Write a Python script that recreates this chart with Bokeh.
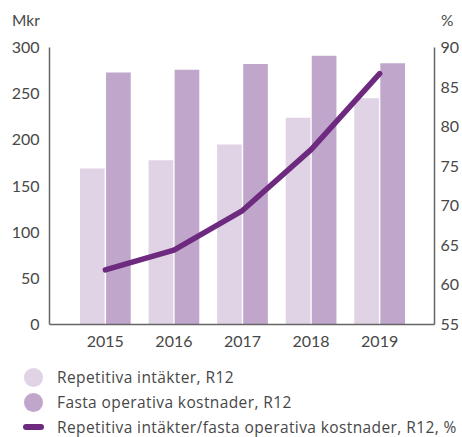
from bokeh.plotting import figure
from bokeh.models import ColumnDataSource, Range1d, LinearAxis, FixedTicker, Div
from bokeh.layouts import column
from bokeh.transform import dodge
from bokeh.embed import file_html
from bokeh.resources import INLINE

# ---- data ----
years = [2015, 2016, 2017, 2018, 2019]
repetitiva_intakter = [169, 178, 195, 224, 245]          # Mkr
fasta_kostnader = [273, 276, 282, 291, 283]              # Mkr
kvot_procent = [61.9, 64.4, 69.4, 77.1, 86.7]            # %
left_ticks = [0, 50, 100, 150, 200, 250, 300]
right_ticks = [55, 60, 65, 70, 75, 80, 85, 90]
left_title = "Mkr"
right_title = "%"
legend_labels = ["Repetitiva intäkter, R12",
                 "Fasta operativa kostnader, R12",
                 "Repetitiva intäkter/fasta operativa kostnader, R12, %"]

LIGHT = "#dfd3e5"
DARK = "#c1a6cb"
LINE = "#6d2a7f"
AXIS = "#666666"
TXT = "#474747"
FONT = "Lato"
LEG_FONT = "Open Sans"
W = 462

src = ColumnDataSource(dict(year=years, intakter=repetitiva_intakter,
                            kostnader=fasta_kostnader, kvot=kvot_procent))

# ---- header with the two axis titles ----
header = Div(width=W, height=30, margin=0, text=(
    f'<div style="position:relative;width:{W}px;height:30px;font-family:{FONT};'
    f'font-size:15.5px;color:{TXT};line-height:20px">'
    f'<span style="position:absolute;left:12px;top:10px">{left_title}</span>'
    f'<span style="position:absolute;left:441px;top:10px">{right_title}</span></div>'))

# ---- chart ----
p = figure(width=W, height=330, output_backend="svg", toolbar_location=None,
           x_range=Range1d(2014.1855, 2019.8), y_range=Range1d(0, 300),
           min_border_left=49, min_border_right=27, min_border_top=17,
           min_border_bottom=36, margin=0)
p.extra_y_ranges = {"pct": Range1d(55, 90)}
p.outline_line_color = None
p.grid.grid_line_color = None

p.vbar(x=dodge("year", -0.19), top="intakter", width=0.36, source=src,
       fill_color=LIGHT, line_color=None)
p.vbar(x=dodge("year", 0.19), top="kostnader", width=0.36, source=src,
       fill_color=DARK, line_color=None)
p.line(x="year", y="kvot", source=src, y_range_name="pct",
       line_color=LINE, line_width=5.5, line_cap="round", line_join="round")

def style_axis(ax, standoff, size="16px"):
    ax.axis_line_color = AXIS
    ax.axis_line_width = 1.5
    ax.major_tick_line_color = None
    ax.minor_tick_line_color = None
    ax.major_tick_in = 0
    ax.major_tick_out = 0
    ax.minor_tick_in = 0
    ax.minor_tick_out = 0
    ax.major_label_text_font = FONT
    ax.major_label_text_font_size = size
    ax.major_label_text_color = TXT
    ax.major_label_standoff = standoff

style_axis(p.xaxis[0], 11)
p.xaxis[0].ticker = FixedTicker(ticks=years)
style_axis(p.yaxis[0], 10)
p.yaxis[0].ticker = FixedTicker(ticks=left_ticks)

ra = LinearAxis(y_range_name="pct", ticker=FixedTicker(ticks=right_ticks))
style_axis(ra, 6)
p.add_layout(ra, "right")

# ---- legend ----
rows = [17, 42, 67]
parts = [f'<div style="position:relative;width:{W}px;height:77px;'
         f'font-family:\'{LEG_FONT}\';font-size:15.5px;letter-spacing:0.4px;'
         f'color:{TXT};line-height:20px">']
for cy, col in zip(rows[:2], [LIGHT, DARK]):
    parts.append(f'<span style="position:absolute;left:24px;top:{cy - 9.5}px;width:19px;'
                 f'height:19px;border-radius:50%;background:{col}"></span>')
parts.append(f'<span style="position:absolute;left:23px;top:{rows[2] - 3}px;width:21px;'
             f'height:6px;border-radius:3px;background:{LINE}"></span>')
for cy, lab in zip(rows, legend_labels):
    parts.append(f'<span style="position:absolute;left:57px;top:{cy - 10}px;'
                 f'white-space:nowrap">{lab}</span>')
parts.append('</div>')
legend = Div(width=W, height=77, margin=0, text="".join(parts))

layout = column(header, p, legend, spacing=0)
open("out.html", "w").write(file_html(layout, INLINE))
